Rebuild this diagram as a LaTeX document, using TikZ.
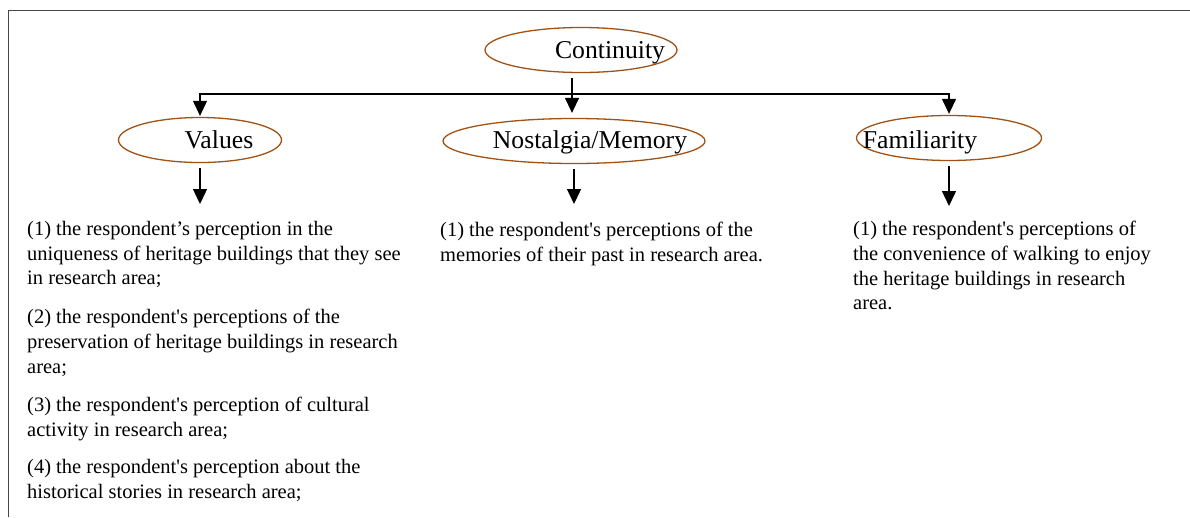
\documentclass[tikz,border=0pt]{standalone}
\usepackage{fontspec}
\setmainfont{Liberation Serif}[Ligatures=TeXOff]
\usetikzlibrary{arrows.meta,shapes.geometric}
\definecolor{ovalbrown}{RGB}{160,82,20}
\definecolor{framegray}{RGB}{70,70,70}

\begin{document}
\begin{tikzpicture}[x=1pt, y=-1pt,
  oval/.style={ellipse, draw=ovalbrown, line width=1.3pt, inner sep=0pt, minimum height=45pt},
  title/.style={font=\fontsize{25.7}{30}\selectfont, inner sep=0pt},
  item/.style={font=\fontsize{20.5}{24.7}\selectfont, anchor=north west, align=left, inner sep=0pt},
  arr/.style={line width=1.4pt, -{Triangle[length=15pt, width=14pt]}}]
  \useasboundingbox (0,0) rectangle (1190,517);
  \draw[framegray, line width=0.9pt] (8,517) -- (8,10) -- (1190,10);

  \node[oval, minimum width=192pt, label={[title, xshift=29pt, yshift=-3pt]center:Continuity}] (cont) at (581,50) {};
  \node[oval, minimum width=163pt, label={[title, xshift=19pt, yshift=0pt]center:Values}] (val) at (200,140) {};
  \node[oval, minimum width=262pt, label={[title, xshift=16pt, yshift=-1pt]center:Nostalgia/Memory}] (nos) at (574,141) {};
  \node[oval, minimum width=185pt, label={[title, xshift=-29pt, yshift=-4pt]center:Familiarity}] (fam) at (949,138) {};

  \node[item] (v1) at (27,221) {(1) the respondent’s perception in the\\uniqueness of heritage buildings that they see\\in research area;};
  \node[item] (v2) at (27,309) {(2) the respondent's perceptions of the\\preservation of heritage buildings in research\\area;};
  \node[item] (v3) at (27,397) {(3) the respondent's perception of cultural\\activity in research area;};
  \node[item] (v4) at (27,459) {(4) the respondent's perception about the\\historical stories in research area;};
  \node[item] (n1) at (440,222) {(1) the respondent's perceptions of the\\memories of their past in research area.};
  \node[item] (f1) at (853,221) {(1) the respondent's perceptions of\\the convenience of walking to enjoy\\the heritage buildings in research\\area.};

  \coordinate (bar) at (572,94);
  \draw[arr] ([xshift=-9pt, yshift=-5pt]cont.south) -- ([xshift=-2pt, yshift=5pt]nos.north);
  \draw[line width=1.2pt, {Triangle[length=15pt, width=14pt]}-{Triangle[length=15pt, width=14pt]}]
    ([yshift=1pt]val.north) |- (bar) -| ([yshift=1pt]fam.north);
  \foreach \o/\t/\s in {val/v1/17, nos/n1/18, fam/f1/15}
    \draw[arr, shorten >=\s pt] ([yshift=-5pt]\o.south) -- (\o.south |- \t.north);
\end{tikzpicture}
\end{document}
